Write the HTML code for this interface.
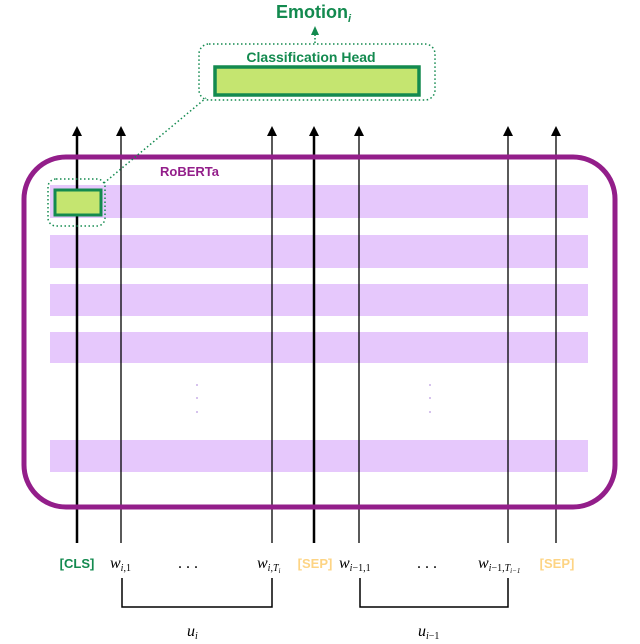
<!DOCTYPE html>
<html><head><meta charset="utf-8"><style>
html,body{margin:0;padding:0;background:#fff;}
svg{display:block;}
</style></head><body>
<svg width="640" height="644" viewBox="0 0 640 644" xmlns="http://www.w3.org/2000/svg">
<!-- bands -->
<g fill="#e6c8fc">
<rect x="50" y="185" width="538" height="33"/>
<rect x="50" y="235" width="538" height="33"/>
<rect x="50" y="284" width="538" height="32"/>
<rect x="50" y="332" width="538" height="31"/>
<rect x="50" y="440" width="538" height="32"/>
</g>
<g fill="#c9b0e8"><circle cx="197" cy="385" r="1"/><circle cx="197" cy="398" r="1"/><circle cx="197" cy="412" r="1"/><circle cx="430" cy="385" r="1"/><circle cx="430" cy="398" r="1"/><circle cx="430" cy="412" r="1"/></g>
<!-- lines -->
<g stroke="#000" fill="none">
<line x1="77" y1="543" x2="77" y2="134" stroke-width="2.5"/>
<line x1="121" y1="543" x2="121" y2="134" stroke-width="1.3"/>
<line x1="272" y1="543" x2="272" y2="134" stroke-width="1.3"/>
<line x1="314" y1="543" x2="314" y2="134" stroke-width="2.5"/>
<line x1="359" y1="543" x2="359" y2="134" stroke-width="1.3"/>
<line x1="508" y1="543" x2="508" y2="134" stroke-width="1.3"/>
<line x1="556" y1="543" x2="556" y2="134" stroke-width="1.3"/>
</g>
<g fill="#000">
<path d="M72,136 L77,126 L82,136 Z"/>
<path d="M116,136 L121,126 L126,136 Z"/>
<path d="M267,136 L272,126 L277,136 Z"/>
<path d="M309,136 L314,126 L319,136 Z"/>
<path d="M354,136 L359,126 L364,136 Z"/>
<path d="M503,136 L508,126 L513,136 Z"/>
<path d="M551,136 L556,126 L561,136 Z"/>
</g>
<rect x="24" y="157" width="591" height="350" rx="42" fill="none" stroke="#931e8a" stroke-width="5"/>
<text x="160" y="176" font-family="Liberation Sans, sans-serif" font-weight="bold" font-size="13" fill="#931e8a">RoBERTa</text>
<!-- small box -->
<rect x="48" y="179" width="57" height="47" rx="8" fill="none" stroke="#138a4f" stroke-width="1.5" stroke-dasharray="1.5,2.5"/>
<rect x="55" y="190" width="46" height="25" fill="#c5e570" stroke="#138a4f" stroke-width="3"/>
<line x1="104" y1="183" x2="206" y2="98" stroke="#138a4f" stroke-width="1.5" stroke-dasharray="1.5,2.5"/>
<!-- classification head -->
<rect x="199" y="44" width="236" height="56" rx="10" fill="none" stroke="#138a4f" stroke-width="1.5" stroke-dasharray="1.5,2.5"/>
<text x="311" y="62" text-anchor="middle" font-family="Liberation Sans, sans-serif" font-weight="bold" font-size="14" fill="#138a4f">Classification Head</text>
<rect x="215" y="67" width="204" height="28" fill="#c5e570" stroke="#138a4f" stroke-width="3.5"/>
<line x1="315" y1="43" x2="315" y2="34" stroke="#138a4f" stroke-width="1.5" stroke-dasharray="1.5,2"/>
<path d="M311,35 L315,26 L319,35 Z" fill="#138a4f"/>
<text x="276" y="18" font-family="Liberation Sans, sans-serif" font-weight="bold" font-size="18" fill="#138a4f">Emotion<tspan font-size="11" font-style="italic" dy="4">i</tspan></text>
<!-- bottom labels -->
<g font-family="Liberation Sans, sans-serif" font-weight="bold" font-size="13">
<text x="77" y="568" text-anchor="middle" fill="#138a4f">[CLS]</text>
<text x="315" y="568" text-anchor="middle" fill="#fdd484">[SEP]</text>
<text x="557" y="568" text-anchor="middle" fill="#fdd484">[SEP]</text>
</g>
<g font-family="Liberation Serif, serif" font-size="16" fill="#000">
<text x="110" y="568" font-style="italic">w<tspan font-size="10" dy="3">i</tspan><tspan font-size="10" font-style="normal">,1</tspan></text>
<text x="178" y="568">. . .</text>
<text x="257" y="568" font-style="italic">w<tspan font-size="10" dy="3">i,T</tspan><tspan font-size="7" dy="2">i</tspan></text>
<text x="339" y="568" font-style="italic">w<tspan font-size="10" dy="3">i</tspan><tspan font-size="10" font-style="normal">−1,1</tspan></text>
<text x="417" y="568">. . .</text>
<text x="478" y="568" font-style="italic">w<tspan font-size="10" dy="3">i</tspan><tspan font-size="10" font-style="normal">−1,</tspan><tspan font-size="10">T</tspan><tspan font-size="7" dy="2">i−1</tspan></text>
<text x="187" y="636" font-style="italic">u<tspan font-size="10" dy="3">i</tspan></text>
<text x="418" y="636" font-style="italic">u<tspan font-size="10" dy="3">i</tspan><tspan font-size="10" font-style="normal">−1</tspan></text>
</g>
<g stroke="#000" stroke-width="1.5" fill="none">
<path d="M122,578 V607 H272 V578"/>
<path d="M360,578 V607 H508 V578"/>
</g>
</svg>
</body></html>
